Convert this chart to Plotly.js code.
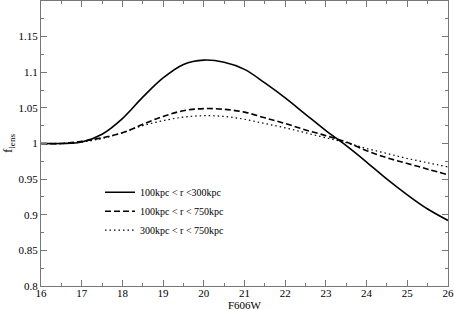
<!DOCTYPE html>
<html>
<head>
<meta charset="utf-8">
<script src="https://cdn.plot.ly/plotly-3.0.1.min.js"></script>
<style>html,body{margin:0;padding:0;background:#fff;}#chart{width:454px;height:311px;}</style>
</head>
<body>
<div id="chart"></div>
<script>
var mag = [16, 16.5, 17, 17.5, 18, 18.5, 19, 19.5, 20, 20.5, 21, 21.5, 22, 22.5, 23, 23.5, 24, 24.5, 25, 25.5, 26];
var f_100_300 = [1.000, 1.000, 1.002, 1.013, 1.035, 1.065, 1.092, 1.111, 1.117, 1.114, 1.104, 1.085, 1.064, 1.041, 1.018, 0.997, 0.974, 0.950, 0.928, 0.908, 0.892];
var f_100_750 = [1.000, 1.000, 1.003, 1.008, 1.015, 1.027, 1.038, 1.046, 1.049, 1.048, 1.044, 1.036, 1.028, 1.019, 1.011, 1.002, 0.990, 0.980, 0.972, 0.964, 0.956];
var f_300_750 = [1.000, 1.000, 1.002, 1.007, 1.015, 1.025, 1.032, 1.037, 1.039, 1.038, 1.034, 1.028, 1.022, 1.015, 1.008, 1.001, 0.993, 0.986, 0.979, 0.973, 0.967];
var seriesNames = ['100kpc &lt; r &lt;300kpc', '100kpc &lt; r &lt; 750kpc', '300kpc &lt; r &lt; 750kpc'];
var yTickVals = [0.8, 0.85, 0.9, 0.95, 1, 1.05, 1.1, 1.15];
var yTickText = ['0.8', '0.85', '0.9', '0.95', '1', '1.05', '1.1', '1.15'];
var xTickVals = [16, 17, 18, 19, 20, 21, 22, 23, 24, 25, 26];

var traces = [
  {x: mag, y: f_100_300, name: seriesNames[0], mode: 'lines', line: {color: '#000', width: 1.6, dash: 'solid', shape: 'spline'}},
  {x: mag, y: f_100_750, name: seriesNames[1], mode: 'lines', line: {color: '#000', width: 1.6, dash: '6px,3px', shape: 'spline'}},
  {x: mag, y: f_300_750, name: seriesNames[2], mode: 'lines', line: {color: '#000', width: 1.2, dash: '1.5px,3px', shape: 'spline'}}
];

var axCommon = {
  showgrid: false, zeroline: false,
  showline: true, linecolor: '#777', linewidth: 1, mirror: 'ticks',
  ticks: 'inside', ticklen: 6, tickcolor: '#777', tickwidth: 1,
  tickfont: {family: 'Liberation Serif, serif', size: 11, color: '#000'}
};

var layout = {
  width: 454, height: 311,
  margin: {l: 41, r: 6, t: 1, b: 25},
  paper_bgcolor: '#fff', plot_bgcolor: '#fff',
  showlegend: true,
  legend: {x: 0.145, y: 0.38, xanchor: 'left', yanchor: 'top', itemwidth: 30,
           bgcolor: 'rgba(0,0,0,0)', tracegroupgap: 0,
           font: {family: 'Liberation Serif, serif', size: 10, color: '#000'}},
  xaxis: Object.assign({}, axCommon, {
    range: [16, 26], tickvals: xTickVals, ticklabelstandoff: -3,
    minor: {dtick: 0.5, ticklen: 3, tickcolor: '#777', ticks: 'inside'},
    title: {text: 'F606W', standoff: 0, font: {family: 'Liberation Serif, serif', size: 11, color: '#000'}}
  }),
  yaxis: Object.assign({}, axCommon, {
    range: [0.8, 1.2], tickvals: yTickVals, ticktext: yTickText,
    minor: {dtick: 0.025, ticklen: 3, tickcolor: '#777', ticks: 'inside'},
    title: {text: 'f<sub>lens</sub>', standoff: 8, font: {family: 'Liberation Serif, serif', size: 13, color: '#000'}}
  })
};

Plotly.newPlot('chart', traces, layout, {displayModeBar: false, staticPlot: true});
</script>
</body>
</html>
